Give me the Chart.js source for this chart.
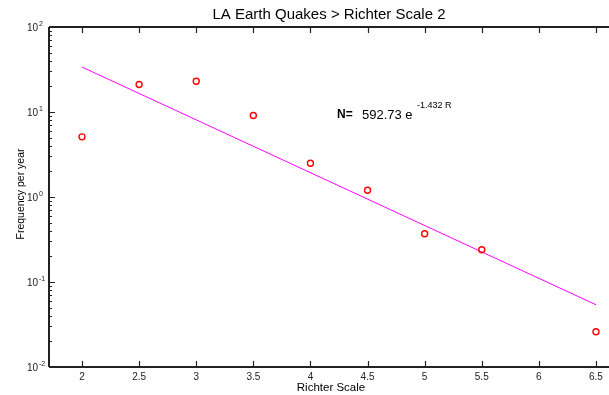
<!DOCTYPE html>
<html>
<head>
<meta charset="utf-8">
<script src="https://cdn.jsdelivr.net/npm/chart.js@4.4.0/dist/chart.umd.min.js"></script>
<style>
  html,body{margin:0;padding:0;background:#fff;}
  #wrap{width:609px;height:395px;position:relative;}
</style>
</head>
<body>
<div id="wrap"><canvas id="c"></canvas></div>
<script>
// data
const richter = [2, 2.5, 3, 3.5, 4, 4.5, 5, 5.5, 6.5];
const freq    = [5.1, 21.1, 23.0, 9.1, 2.5, 1.2, 0.37, 0.24, 0.026];
const fitR    = [2, 6.5];
const fitN    = [33.8, 0.054];
const xTicks  = [2, 2.5, 3, 3.5, 4, 4.5, 5, 5.5, 6, 6.5];
const yDecades = [-2, -1, 0, 1, 2];

const FONT = '"Liberation Sans", Arial, sans-serif';

// inward ticks, frame lines and all labels
const frame = {
  id: 'frame',
  afterDraw(chart) {
    const {ctx, chartArea: a, scales: {x, y}} = chart;
    ctx.save();
    ctx.strokeStyle = '#222';
    ctx.lineWidth = 2;
    ctx.beginPath();
    ctx.moveTo(a.left, a.top); ctx.lineTo(a.right, a.top);
    ctx.moveTo(a.left, a.top); ctx.lineTo(a.left, a.bottom);
    ctx.moveTo(a.left, a.bottom); ctx.lineTo(a.right, a.bottom);
    ctx.stroke();

    ctx.lineWidth = 1.2;
    ctx.beginPath();
    xTicks.forEach(v => {
      const px = Math.round(x.getPixelForValue(v)) + 0.5;
      ctx.moveTo(px, a.bottom); ctx.lineTo(px, a.bottom - 6);
      ctx.moveTo(px, a.top); ctx.lineTo(px, a.top + 6);
    });
    yDecades.forEach(d => {
      const py = Math.round(y.getPixelForValue(Math.pow(10, d))) + 0.5;
      ctx.moveTo(a.left, py); ctx.lineTo(a.left + 6, py);
      if (d < 2) {
        for (let m = 2; m <= 9; m++) {
          const pm = Math.round(y.getPixelForValue(m * Math.pow(10, d))) + 0.5;
          ctx.moveTo(a.left, pm); ctx.lineTo(a.left + 3, pm);
        }
      }
    });
    ctx.stroke();

    ctx.fillStyle = '#222';
    ctx.font = '10px ' + FONT;
    ctx.textAlign = 'center';
    ctx.textBaseline = 'middle';
    xTicks.forEach(v => ctx.fillText(String(v), x.getPixelForValue(v), a.bottom + 10));

    yDecades.forEach(d => {
      const py = y.getPixelForValue(Math.pow(10, d));
      ctx.font = '10px ' + FONT;
      ctx.textAlign = 'right';
      ctx.fillText('10', 38, py + 1);
      ctx.font = '7px ' + FONT;
      ctx.textAlign = 'left';
      ctx.fillText(String(d), 39, py - 3);
    });

    ctx.fillStyle = '#000';
    ctx.textAlign = 'center';
    ctx.font = '15px ' + FONT;
    ctx.fillText('LA Earth Quakes > Richter Scale 2', (a.left + a.right) / 2, 15);
    ctx.font = '11.5px ' + FONT;
    ctx.fillText('Richter Scale', 331, 388);
    ctx.save();
    ctx.translate(21, 194);
    ctx.rotate(-Math.PI / 2);
    ctx.font = '10.5px ' + FONT;
    ctx.fillText('Frequency per year', 0, 0);
    ctx.restore();

    ctx.textAlign = 'left';
    ctx.font = 'bold 12px ' + FONT;
    ctx.fillText('N=', 337, 115);
    ctx.font = '13px ' + FONT;
    ctx.fillText('592.73 e', 362, 115);
    ctx.font = '9px ' + FONT;
    ctx.fillText('-1.432 R', 417, 106);
    ctx.restore();
  }
};

new Chart(document.getElementById('c'), {
  type: 'scatter',
  data: {
    datasets: [
      {
        data: richter.map((r, i) => ({x: r, y: freq[i]})),
        pointStyle: 'circle', pointRadius: 3, pointBorderWidth: 1.4,
        borderColor: '#ff0000', backgroundColor: 'rgba(0,0,0,0)', showLine: false
      },
      {
        data: fitR.map((r, i) => ({x: r, y: fitN[i]})),
        showLine: true, borderColor: '#ff00ff', borderWidth: 1, pointRadius: 0
      }
    ]
  },
  options: {
    responsive: true, maintainAspectRatio: false, animation: false,
    layout: {autoPadding: false, padding: {left: 49, top: 27, bottom: 28, right: 0}},
    plugins: {legend: {display: false}, tooltip: {enabled: false}},
    scales: {
      x: {type: 'linear', min: 1.711, max: 6.614, display: false},
      y: {type: 'logarithmic', min: 0.01, max: 100, display: false}
    }
  },
  plugins: [frame]
});
</script>
</body>
</html>
